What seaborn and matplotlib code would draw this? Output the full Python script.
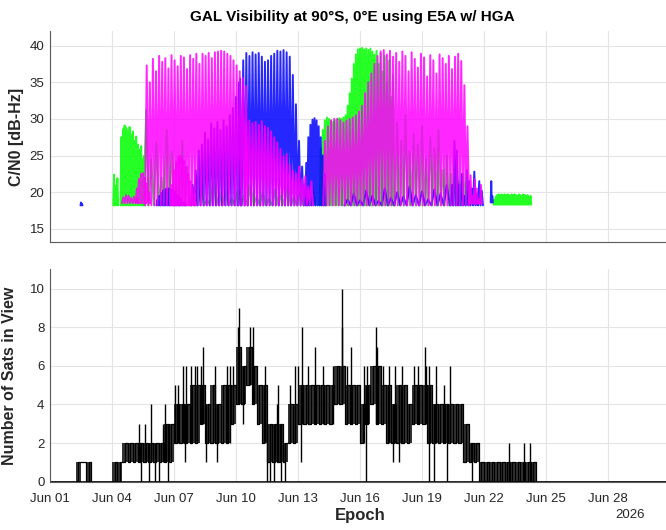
import numpy as np
import matplotlib
matplotlib.use("Agg")
import matplotlib.pyplot as plt
import seaborn as sns

sns.set_theme(style="white")
plt.rcParams["font.family"] = ["Liberation Sans", "DejaVu Sans"]

# ---------------- data ----------------
epoch_span = [0, 30]                      # days from Jun 01 00:00 to Jul 01
tick_days = [0, 3, 6, 9, 12, 15, 18, 21, 24, 27]
tick_labels = ["Jun 01", "Jun 04", "Jun 07", "Jun 10", "Jun 13",
               "Jun 16", "Jun 19", "Jun 22", "Jun 25", "Jun 28"]
cn0_ticks = [15, 20, 25, 30, 35, 40]
sat_ticks = [0, 2, 4, 6, 8, 10]

# C/N0 passes: start day, sample spacing (days), floor, peak values (dB-Hz)
green_passes = [
    (3.10, 0.08, 18.2, [22.4, 20.8, 21.9]),
    (3.45, 0.08, 18.2, [27.5, 28.6, 29.1, 28.8, 28.4, 28.9, 27.8, 28.3, 27.0, 27.6,
                        26.5, 25.8, 26.3, 24.5, 25.0]),
    (4.65, 0.25, 18.2, [31.2, 24.5, 26.8, 22.0, 28.5, 25.5, 21.0, 27.0, 23.5, 20.5]),
    (7.00, 0.30, 18.2, [19.5, 20.8, 19.0, 21.5, 19.8, 20.2, 19.2, 20.6, 19.6, 21.0,
                        19.4, 20.0, 19.1, 20.4, 19.7, 20.9, 19.3, 20.1, 19.5, 20.7]),
    (13.10, 0.10, 18.2, [26.0, 28.5, 29.8, 30.2, 30.0, 29.8, 29.6, 29.8, 30.0, 30.1,
                         30.0, 30.2, 30.5, 31.8, 33.5, 35.5, 37.5, 38.8, 39.5, 39.6,
                         39.7, 39.5, 39.6, 39.4, 39.6, 39.2, 38.8, 39.3, 37.5, 39.0,
                         36.5, 38.6, 35.0, 38.0, 33.0, 36.0]),
    (16.80, 0.20, 18.2, [29.5, 27.0, 30.5, 25.5, 28.0, 26.5, 29.0, 24.5, 27.5, 26.0,
                         28.5, 23.0, 25.0, 22.5, 24.0, 21.5, 22.5, 20.0]),
    (21.50, 0.07, 18.3, [19.0, 19.4, 19.6, 19.7, 19.6, 19.7, 19.5, 19.7, 19.6, 19.7,
                         19.6, 19.5, 19.7, 19.6, 19.7, 19.6, 19.5, 19.7, 19.6, 19.5,
                         19.7, 19.6, 19.5, 19.6, 19.4, 19.5]),
]
blue_passes = [
    (1.50, 0.05, 18.2, [18.6, 18.4]),
    (5.20, 0.09, 18.2, [19.0, 19.5, 19.9, 20.2, 20.4, 20.5, 20.5, 20.4, 20.3, 20.1,
                        19.8, 19.5, 19.2, 18.9, 18.6, 18.5]),
    (6.90, 0.15, 18.2, [21.0, 23.0, 25.7, 26.5, 28.1, 27.2, 29.4, 28.7, 29.6, 28.5,
                        29.8, 29.0, 30.5, 31.5, 33.0, 35.0]),
    (9.20, 0.15, 18.2, [35.5, 38.0, 39.0, 38.6, 39.1, 38.8, 39.0, 38.5, 37.8, 38.0,
                        38.6, 38.9, 39.3, 39.2, 39.4, 39.1, 38.5, 36.0, 32.0, 27.0,
                        23.5, 21.2]),
    (12.40, 0.10, 18.2, [24.0, 27.5, 29.2, 29.9, 30.1, 29.8, 29.0, 27.5, 25.0, 22.5]),
    (14.40, 0.30, 18.2, [19.0, 19.8, 18.9, 20.2, 19.5, 18.8, 20.5, 19.2, 20.0, 19.4,
                         20.8, 19.6, 20.1, 19.0, 20.4, 19.8, 21.0]),
    (19.45, 0.12, 18.2, [21.0, 27.0, 25.7, 21.0, 22.5, 19.5, 23.0, 21.5, 20.5, 22.8,
                         19.8, 21.5, 20.2]),
    (21.35, 0.05, 18.6, [21.5, 19.5]),
]
magenta_passes = [
    (3.55, 0.13, 18.5, [19.3, 19.6, 19.5, 19.2, 19.4, 19.1]),
    (4.20, 0.10, 18.5, [20.5, 21.8, 22.5, 22.6, 22.0, 21.2, 20.0]),
    (4.68, 0.15, 18.2, [37.3, 35.0, 38.2, 36.5, 38.6, 37.8, 38.3, 36.9, 38.7, 38.0,
                        37.2, 38.6, 38.4, 36.8, 38.7, 38.2, 38.9, 37.5, 38.9, 38.6,
                        39.0, 38.3, 39.1, 39.2, 39.3, 39.2, 38.9, 38.6, 38.0, 37.3,
                        36.5, 35.6, 34.5]),
    (5.90, 0.10, 18.2, [21.0, 23.0, 24.2, 24.8, 25.0, 24.8, 24.3, 23.5, 22.5, 21.5,
                        20.5, 19.5]),
    (9.50, 0.15, 18.2, [29.5, 29.8, 29.4, 29.6, 29.2, 29.7, 29.0, 28.8, 28.3, 27.5,
                        26.8, 25.9, 24.9, 25.2, 23.8, 23.0, 22.6, 23.5, 21.8, 22.2,
                        20.8, 21.5]),
    (13.30, 0.15, 18.2, [27.0, 29.0, 29.8, 30.0, 30.0, 29.8, 29.5, 29.8, 30.0, 30.2,
                         30.5, 31.0, 31.8, 33.5, 35.0, 36.2, 37.5, 38.6, 39.2, 39.4,
                         38.8, 39.3, 38.5, 39.0, 37.8, 39.2, 38.6, 36.5, 39.1, 38.2,
                         37.0, 38.9, 38.4, 35.8, 38.7, 38.0, 36.2, 38.8, 38.3, 37.5,
                         38.6, 36.8, 38.5, 38.9, 37.9, 34.6, 29.0]),
    (20.35, 0.10, 18.4, [22.3, 19.5, 21.8, 20.5, 19.0, 21.0]),
]

# Number of satellites in view, 6-hour bins starting Jun 02 06:00 (day 1.25)
sat_bin_start = 1.25
sat_bin_width = 0.25
sat_low = [0, 1, 0, 0, 0, 0, 0,
           0, 0, 1, 1, 1, 1, 1, 1, 1, 1, 1, 1,
           2, 2, 2, 2, 2, 3, 2, 2, 2, 2, 2, 3,
           4, 4, 5, 4, 3, 2, 1, 1, 1, 1, 2, 2,
           3, 3, 3, 3, 3, 3, 3, 4, 4, 3, 3, 3,
           2, 3, 4, 3, 3, 2, 2, 2, 2, 2, 3, 3,
           3, 2, 2, 2, 2, 2, 2, 2, 1, 1, 1, 0,
           0, 0, 0, 0, 0, 0, 0, 0, 0, 0]
sat_high = [1, 1, 1, 0, 0, 0, 0,
            1, 1, 2, 2, 2, 2, 2, 2, 2, 2, 3, 3,
            4, 4, 4, 5, 5, 5, 4, 5, 4, 5, 5, 5,
            7, 6, 7, 6, 5, 5, 3, 3, 3, 2, 4, 4,
            5, 5, 5, 5, 5, 5, 5, 6, 6, 5, 5, 5,
            4, 5, 6, 6, 5, 5, 4, 5, 5, 4, 5, 5,
            5, 5, 4, 4, 4, 4, 4, 4, 3, 2, 2, 1,
            1, 1, 1, 1, 1, 1, 1, 1, 1, 1]
spike_days = [4.30, 4.62, 4.90, 5.45, 5.55, 6.05, 6.20, 6.45, 6.60, 6.80, 7.00, 7.10,
              7.30, 7.40, 8.00, 8.55, 8.70, 8.85, 9.10, 9.15, 9.70, 9.80, 10.40, 11.00,
              11.05, 11.60, 11.85, 12.00, 12.20, 12.50, 12.80, 13.20, 13.70, 14.12,
              14.14, 14.35, 14.55, 15.20, 15.35, 15.75, 15.80, 16.10, 16.40, 16.70,
              17.05, 17.60, 17.80, 18.13, 18.20, 18.35, 18.70, 19.05, 19.34, 22.20,
              22.95, 23.24]
spike_vals = [3, 3, 4, 3, 4, 5, 5, 6, 6, 6, 6, 6,
              6, 7, 6, 6, 6, 6, 8, 9, 8, 8, 6, 4,
              5, 5, 6, 6, 8, 6, 7, 6, 6, 8,
              10, 6, 7, 6, 6, 8, 7, 6, 6, 6,
              6, 6, 6, 7, 6, 6, 6, 5, 6, 2,
              2, 2]
dip_days = [4.40, 4.80, 5.10, 5.25, 5.70, 6.55, 7.55, 8.10, 9.35, 10.50, 10.65, 10.85,
            11.20, 11.35, 12.15, 15.30, 16.60, 16.90, 18.35, 18.56, 19.20, 20.40]
dip_vals = [0, 0, 0, 0, 0, 1, 1, 1, 3, 0, 0, 0,
            0, 0, 1, 0, 1, 1, 0, 0, 0, 0]

# ---------------- figure ----------------
W, H = 666, 530
fig = plt.figure(figsize=(W / 100, H / 100), dpi=100)
ax1 = fig.add_axes([50 / W, 1 - 242 / H, 620 / W, 211 / H])
ax2 = fig.add_axes([50 / W, 1 - 481.7 / H, 620 / W, 212.4 / H])

tick_col = "#262626"
grid_col = "#e4e4e4"


def streak_line(start, step, floor, peaks):
    t, y = [start - step / 2], [floor]
    for i, p in enumerate(peaks):
        t += [start + i * step, start + i * step + step / 2]
        y += [p, floor]
    return np.array(t), np.array(y)


for passes, col in [(green_passes, "#00ff00"), (blue_passes, "#0000ff"),
                    (magenta_passes, "#ff00ff")]:
    for start, step, floor, peaks in passes:
        t, y = streak_line(start, step, floor, peaks)
        sns.lineplot(x=t, y=y, ax=ax1, color=col, lw=1.4, alpha=0.85,
                     estimator=None, sort=False, legend=False)

# satellites-in-view count
n = len(sat_low)
edges = sat_bin_start + sat_bin_width * np.arange(n + 1)
lo = np.array(sat_low + [sat_low[-1]])
hi = np.array(sat_high + [sat_high[-1]])
ax2.fill_between(edges, lo, hi, step="post", color="#111111", alpha=0.85, lw=0)
tt = [epoch_span[0], sat_bin_start]
yy = [0, 0]
for i in range(n):
    tt += [edges[i], edges[i] + sat_bin_width / 2]
    yy += [sat_low[i], sat_high[i]]
tt += [edges[-1], epoch_span[1]]
yy += [0, 0]
ax2.plot(tt, yy, drawstyle="steps-post", color="black", lw=0.9)
sns.lineplot(x=[epoch_span[0], epoch_span[1]], y=[0, 0], ax=ax2, color="black",
             lw=1.2, estimator=None, legend=False)
idx_s = np.clip(((np.array(spike_days) - sat_bin_start) // sat_bin_width).astype(int), 0, n - 1)
ax2.vlines(spike_days, np.array(sat_low)[idx_s], spike_vals, color="black", lw=1.0)
idx_d = np.clip(((np.array(dip_days) - sat_bin_start) // sat_bin_width).astype(int), 0, n - 1)
ax2.vlines(dip_days, dip_vals, np.array(sat_high)[idx_d], color="black", lw=1.0)

# ---------------- styling ----------------
for ax in (ax1, ax2):
    ax.set_xlim(epoch_span)
    ax.set_xticks(tick_days)
    ax.grid(True, color=grid_col, lw=0.8)
    ax.set_axisbelow(True)
    for s in ("top", "right"):
        ax.spines[s].set_visible(False)
    for s in ("left", "bottom"):
        ax.spines[s].set_color("#5a5a5a")
        ax.spines[s].set_linewidth(0.8)
    ax.tick_params(direction="in", length=3, width=0.8, color="#5a5a5a",
                   labelsize=9.5, labelcolor=tick_col, pad=4)
    ax.set_facecolor("white")

ax2.tick_params(axis="x", pad=8)

ax1.set_ylim(13.2, 42)
ax1.set_yticks(cn0_ticks)
ax1.set_xticklabels([])
ax1.set_ylabel("C/N0 [dB-Hz]", fontsize=11.5, fontweight="bold", color=tick_col, labelpad=4)

ax2.set_ylim(0, 11)
ax2.set_yticks(sat_ticks)
ax2.set_xticklabels(tick_labels)
ax2.set_ylabel("Number of Sats in View", fontsize=11.5, fontweight="bold",
               color=tick_col, labelpad=9)
ax2.set_xlabel("Epoch", fontsize=12, fontweight="bold", color=tick_col, labelpad=2)

fig.text(352 / W, 1 - 17 / H, "GAL Visibility at 90°S, 0°E using E5A w/ HGA",
         ha="center", va="center", fontsize=11, fontweight="bold", color="black")
fig.text(630 / W, 1 - 515 / H, "2026", ha="center", va="center", fontsize=9.5,
         color=tick_col)

fig.savefig("out.png", dpi=100)
